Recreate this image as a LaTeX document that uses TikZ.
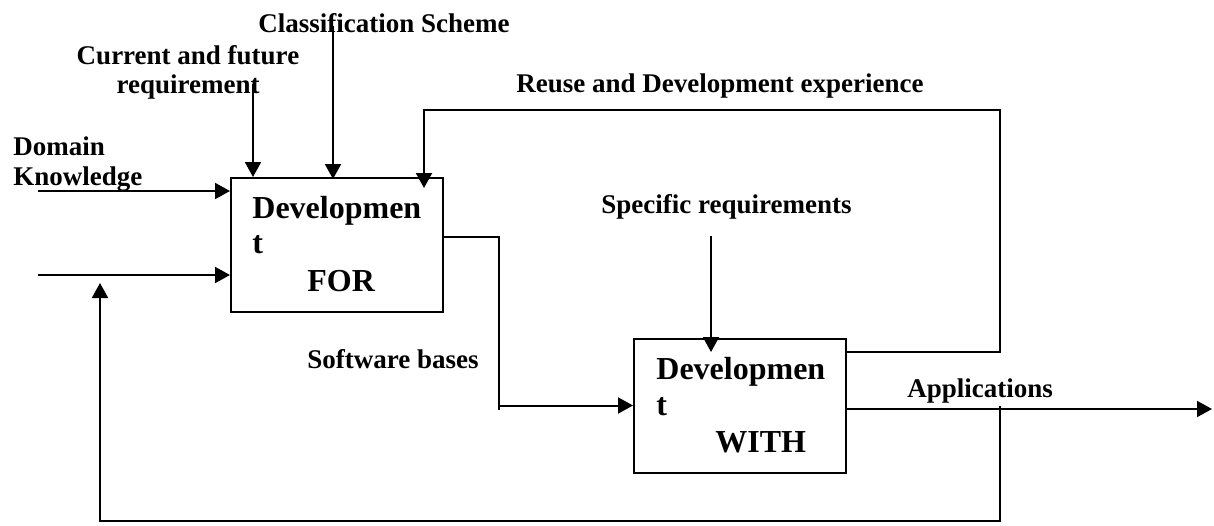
\documentclass[tikz,border=0pt]{standalone}
\usepackage{fontspec}
\setmainfont{Liberation Serif}
\usetikzlibrary{arrows.meta,calc}

\tikzstyle{arrow} = [line width=1pt,-{Triangle[length=7.5pt,width=8pt]}]
\tikzstyle{wire} = [line width=1pt]
\tikzstyle{box} = [draw,line width=1pt,minimum width=106pt,minimum height=67pt,inner sep=0]
\tikzstyle{lbl} = [font=\fontsize{13.5}{15}\selectfont\bfseries,inner sep=0]
\tikzstyle{big} = [font=\fontsize{16}{18}\selectfont\bfseries,inner sep=0]

\begin{document}
\begin{tikzpicture}[x=0.5pt,y=-0.5pt]
\useasboundingbox (0,0) rectangle (1214,525);

% Boxes
\node [box] (forbox) at (337,245) {};
\node [box] (withbox) at (740,405.5) {};

% Box texts
\node [big,anchor=base west] (fordev) at (252,218) {Developmen};
\node [big,anchor=base west] (fort) at (252,253) {t};
\node [big,anchor=base west] (forname) at (307,291) {FOR};
\node [big,anchor=base west] (withdev) at (656,379) {Developmen};
\node [big,anchor=base west] (witht) at (656,415) {t};
\node [big,anchor=base west] (withname) at (715,452) {WITH};

% Labels
\node [lbl,anchor=base west] (cls) at (258,32) {Classification Scheme};
\node [lbl,anchor=north,align=center,font=\fontsize{13.5}{14.5}\selectfont\bfseries] (cur) at (188,45) {Current and future\\requirement};
\node [lbl,anchor=north west,align=left,font=\fontsize{13.5}{15}\selectfont\bfseries] (dom) at (13,136) {Domain\\Knowledge};
\node [lbl,anchor=base west] (reuse) at (516,92) {Reuse and Development experience};
\node [lbl,anchor=base west] (spec) at (601,213) {Specific requirements};
\node [lbl,anchor=base west] (soft) at (307,368) {Software bases};
\node [lbl,anchor=base west] (app) at (907,397) {Applications};

% free ends
\coordinate (domin) at (38,191);
\coordinate (loopin) at (38,275);
\coordinate (curtop) at (253,84);
\coordinate (clstop) at (333,26);
\coordinate (spectop) at (711,236);
\coordinate (reusetip) at (424,188);
\coordinate (spectip) at (711,352);
\coordinate (append) at (1212,409);
\coordinate (forturn) at (499,237);
\coordinate (withturn) at (1000,352);
\coordinate (loopturn) at (1000,521);

% Inputs to FOR
\draw [arrow] (domin) -- (domin -| forbox.west);
\draw [arrow] (loopin) -- (loopin -| forbox.west);
\draw [arrow] (curtop) -- (curtop |- forbox.north);
\draw [arrow] (clstop) -- ($(clstop |- forbox.north)+(0,2)$);

% FOR to WITH
\draw [wire] (forturn -| forbox.east) -- (forturn) -- ($(forturn |- withbox.west)+(0,4)$);
\draw [arrow] (forturn |- withbox.west) -- (withbox.west);
\draw [arrow] (spectop) -- (spectip);

% WITH back to FOR
\draw [arrow] (withturn -| withbox.east) -- (withturn) -- (withturn |- 0,110) -- (reusetip |- 0,110) -- (reusetip);

% Applications
\draw [arrow] (append -| withbox.east) -- (append);
\draw [arrow] ($(loopturn |- append)+(0,-3)$) -- (loopturn) -- (100,521) -- (100,283);

\end{tikzpicture}
\end{document}
